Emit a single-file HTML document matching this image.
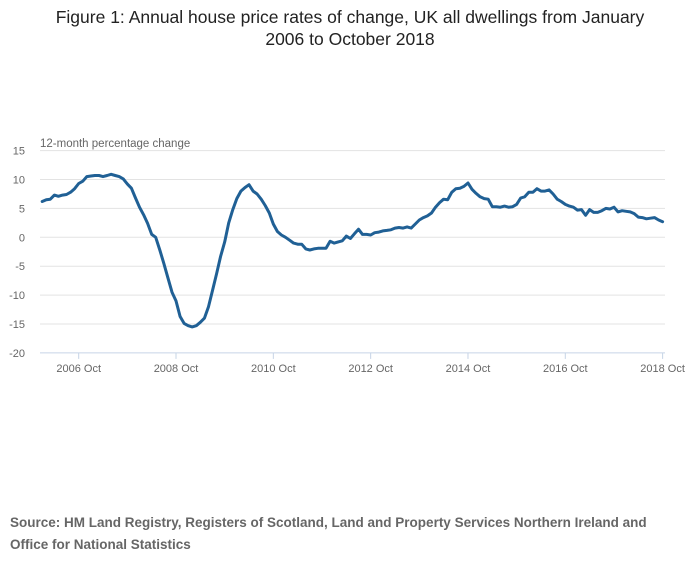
<!DOCTYPE html>
<html><head><meta charset="utf-8"><style>
body{margin:0;background:#fff;font-family:"Liberation Sans",sans-serif;}
#wrap{position:relative;width:700px;height:574px;overflow:hidden;}
#title{position:absolute;left:0;top:6px;width:700px;text-align:center;font-size:17.5px;line-height:22px;color:#222;}
#src{position:absolute;left:10px;top:512px;width:672px;font-size:13.5px;font-weight:bold;line-height:22px;color:#666;}
</style></head><body>
<div id="wrap">
<div id="title">Figure 1: Annual house price rates of change, UK all dwellings from January<br>2006 to October 2018</div>
<svg id="chart" width="700" height="574" style="position:absolute;left:0;top:0"></svg>
<div id="src">Source: HM Land Registry, Registers of Scotland, Land and Property Services Northern Ireland and Office for National Statistics</div>
</div>
<script>
const yTicks=[15,10,5,0,-5,-10,-15,-20];
const xTickLabels=["2006 Oct","2008 Oct","2010 Oct","2012 Oct","2014 Oct","2016 Oct","2018 Oct"];
const xTickMonths=[9,33,57,81,105,129,153];
const y2006=[6.2,6.5,6.6,7.3,7.1,7.3,7.4,7.8,8.4,9.3,9.7,10.5];
const y2007=[10.6,10.7,10.7,10.5,10.7,10.9,10.7,10.5,10.1,9.2,8.5,6.8];
const y2008=[5.2,3.9,2.4,0.5,0.0,-2.2,-4.5,-7.0,-9.5,-11.0,-13.7,-14.9];
const y2009=[-15.3,-15.5,-15.3,-14.7,-14.0,-12.0,-9.2,-6.3,-3.3,-0.8,2.5,4.8];
const y2010=[6.7,8.0,8.6,9.1,8.0,7.5,6.6,5.5,4.2,2.3,1.0,0.4];
const y2011=[0.0,-0.5,-1.0,-1.2,-1.2,-2.0,-2.2,-2.0,-1.9,-1.9,-1.9,-0.7];
const y2012=[-1.0,-0.8,-0.6,0.2,-0.2,0.6,1.4,0.5,0.5,0.4,0.8,0.9];
const y2013=[1.1,1.2,1.3,1.6,1.7,1.6,1.8,1.6,2.3,3.0,3.4,3.7];
const y2014=[4.2,5.2,6.0,6.6,6.5,7.8,8.4,8.5,8.8,9.4,8.3,7.6];
const y2015=[7.0,6.7,6.6,5.3,5.3,5.2,5.4,5.2,5.3,5.7,6.8,7.0];
const y2016=[7.8,7.8,8.4,8.0,8.0,8.2,7.5,6.6,6.2,5.7,5.4,5.2];
const y2017=[4.7,4.8,3.8,4.8,4.3,4.3,4.6,5.0,4.9,5.2,4.4,4.6];
const y2018=[4.5,4.4,4.1,3.5,3.4,3.2,3.3,3.4,3.0,2.7];
const values=[].concat(y2006,y2007,y2008,y2009,y2010,y2011,y2012,y2013,y2014,y2015,y2016,y2017,y2018);

const NS="http://www.w3.org/2000/svg";
const svg=document.getElementById('chart');
const X0=42.2,PX_PER_M=4.055,LEFT=40,RIGHT=665;
const xs=m=>X0+m*PX_PER_M;
const ys=v=>237.3-v*5.78;
function mk(tag,attrs){const e=document.createElementNS(NS,tag);for(const k in attrs)e.setAttribute(k,attrs[k]);svg.appendChild(e);return e;}

yTicks.forEach(t=>{
  const g=mk('line',{x1:LEFT,x2:RIGHT,y1:ys(t),y2:ys(t),stroke:t===-20?'#c6d4e6':'#e3e3e3','stroke-width':1});
  
  
  const l=mk('text',{x:25,y:ys(t)+4,'text-anchor':'end','font-size':11,fill:'#666','font-family':'Liberation Sans, sans-serif'});
  l.textContent=t;
  
  
});
xTickMonths.forEach((m,i)=>{
  const tk=mk('line',{x1:xs(m),x2:xs(m),y1:ys(-20),y2:ys(-20)+6,stroke:'#c6d4e6','stroke-width':1});
  
  
  const l=mk('text',{x:xs(m),y:372,'text-anchor':'middle','font-size':11,fill:'#666','font-family':'Liberation Sans, sans-serif'});
  l.textContent=xTickLabels[i];
  
  
});
const yt=mk('text',{x:40,y:147,'font-size':11.5,fill:'#666','font-family':'Liberation Sans, sans-serif'});
yt.textContent='12-month percentage change';



const d=values.map((v,i)=>(i?'L':'M')+xs(i).toFixed(1)+','+ys(v).toFixed(1)).join('');
const p=mk('path',{d:d,fill:'none',stroke:'#206095','stroke-width':3,'stroke-linejoin':'round','stroke-linecap':'round'});


</script>
</body></html>
